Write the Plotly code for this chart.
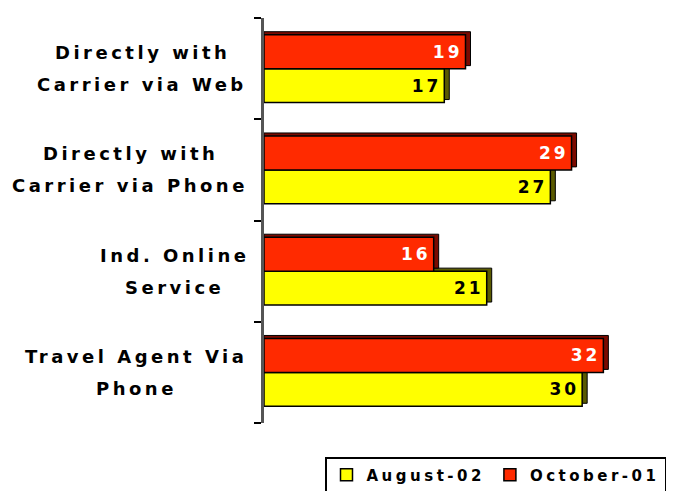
import plotly.graph_objects as go

categories = ["Directly with<br>Carrier via Web", "Directly with<br>Carrier via Phone",
              "Ind. Online<br>Service", "Travel Agent Via<br>Phone"]
cat_keys = ["Web", "Phone", "Online", "Agent"]
august_02 = [17, 27, 21, 30]
october_01 = [19, 29, 16, 32]
series_names = ["August-02", "October-01"]

FONT = "DejaVu Sans"
# horizontal centre (px from left edge) of each category label block
label_centers_px = [142, 130, 174, 136]

W, H = 679, 491
ML, MR, MT, MB = 264, 12, 18, 68
XMAX = 38
px_per_unit = (W - ML - MR) / XMAX
DEPTH_X = 5 / px_per_unit                 # 3-D depth, in data units
BAR_W = 0.335                             # bar thickness in category units
DEPTH_Y = 3 / ((H - MT - MB) / 4)         # 3-D depth, in category units


def spaced(s, px):
    return f'<span style="letter-spacing:{px}px">{s}</span>'


fig = go.Figure()

specs = [
    (august_02, series_names[0], "#FFFF00", "#5A5A00", "black", -BAR_W),
    (october_01, series_names[1], "#FF2A00", "#7A0A00", "white", 0.0),
]
# shadows (3-D depth) first, then fronts
for vals, name, col, dark, tcol, off in specs:
    fig.add_trace(go.Bar(
        y=cat_keys, x=[v + DEPTH_X for v in vals], orientation="h",
        offset=off + DEPTH_Y, width=BAR_W, showlegend=False, hoverinfo="skip",
        marker=dict(color=dark, line=dict(color="black", width=1)),
    ))
for vals, name, col, dark, tcol, off in specs:
    fig.add_trace(go.Bar(
        y=cat_keys, x=vals, orientation="h", name=spaced(name, 3.5),
        offset=off, width=BAR_W,
        marker=dict(color=col, line=dict(color="black", width=1.5)),
        text=[spaced(str(v), 3) for v in vals], textposition="inside", insidetextanchor="end",
        textfont=dict(family=FONT, size=17, color=tcol, weight="bold"),
        cliponaxis=False,
    ))

for key, label, cx in zip(cat_keys, categories, label_centers_px):
    lines = label.split("<br>")
    for i, line in enumerate(lines):
        fig.add_annotation(
            x=(cx - ML) / (W - ML - MR), xref="paper", y=key, yref="y",
            yshift=16 - 32 * i,
            text=spaced(line, 3.5), showarrow=False, xanchor="center", yanchor="middle",
            font=dict(family=FONT, size=18, color="black", weight="bold"),
        )

fig.update_layout(
    width=W, height=H,
    margin=dict(l=ML, r=MR, t=MT, b=MB, autoexpand=False),
    paper_bgcolor="white", plot_bgcolor="white",
    barmode="overlay",
    showlegend=True,
    legend=dict(
        orientation="h", x=(325 - ML) / (W - ML - MR), y=-0.084, xanchor="left", yanchor="top",
        bordercolor="black", borderwidth=1.5, bgcolor="white",
        font=dict(family=FONT, size=15, color="black", weight="bold"),
        traceorder="normal", itemwidth=30,
    ),
    xaxis=dict(range=[0, XMAX], visible=False, showgrid=False, zeroline=False),
    yaxis=dict(
        categoryorder="array", categoryarray=cat_keys[::-1], range=[-0.5, 3.5],
        showticklabels=False, showgrid=False, zeroline=False,
        showline=True, linecolor="#555", linewidth=3,
        ticks="outside", tickson="boundaries", ticklen=7, tickcolor="black", tickwidth=1.5,
    ),
)

fig.write_html("out.html", config={"displayModeBar": False},
               post_script="document.body.style.margin='0';")
